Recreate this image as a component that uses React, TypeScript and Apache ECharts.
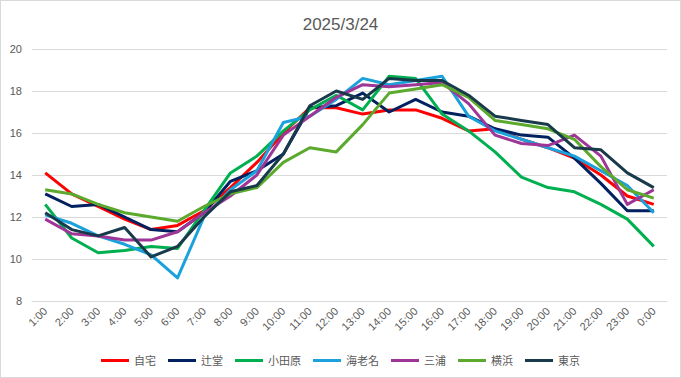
import React, { useEffect, useRef } from "react";
import * as echarts from "echarts";

const categories = ["1:00","2:00","3:00","4:00","5:00","6:00","7:00","8:00","9:00","10:00","11:00","12:00","13:00","14:00","15:00","16:00","17:00","18:00","19:00","20:00","21:00","22:00","23:00","0:00"];

const jitaku = [14.1, 13.1, 12.5, 11.9, 11.4, 11.6, 12.3, 13.4, 14.6, 16.0, 17.2, 17.2, 16.9, 17.1, 17.1, 16.7, 16.1, 16.2, 15.7, 15.3, 14.8, 14.0, 13.0, 12.6];
const tsujido = [13.1, 12.5, 12.6, 12.0, 11.4, 11.3, 12.2, 13.7, 14.2, 15.0, 17.2, 17.3, 17.9, 17.0, 17.6, 17.0, 16.8, 16.2, 15.9, 15.8, 14.8, 13.6, 12.3, 12.3];
const odawara = [12.6, 11.0, 10.3, 10.4, 10.6, 10.5, 12.3, 14.1, 14.9, 16.1, 17.1, 17.8, 17.1, 18.7, 18.6, 16.9, 16.1, 15.1, 13.9, 13.4, 13.2, 12.6, 11.9, 10.6];
const ebina = [12.1, 11.7, 11.1, 10.7, 10.2, 9.1, 12.0, 13.3, 14.2, 16.5, 16.8, 17.6, 18.6, 18.3, 18.5, 18.7, 16.8, 16.1, 15.7, 15.3, 14.9, 14.2, 13.5, 12.2];
const miura = [11.9, 11.2, 11.1, 10.9, 10.9, 11.3, 12.2, 13.0, 14.0, 15.9, 16.8, 17.7, 18.3, 18.2, 18.3, 18.4, 17.4, 15.9, 15.5, 15.4, 15.9, 14.9, 12.6, 13.3];
const yokohama = [13.3, 13.1, 12.6, 12.2, 12.0, 11.8, 12.5, 13.1, 13.4, 14.6, 15.3, 15.1, 16.4, 17.9, 18.1, 18.3, 17.7, 16.6, 16.4, 16.2, 15.7, 14.4, 13.3, 12.9];
const tokyo = [12.2, 11.4, 11.1, 11.5, 10.1, 10.6, 12.0, 13.2, 13.5, 15.0, 17.3, 18.0, 17.6, 18.6, 18.5, 18.5, 17.8, 16.8, 16.6, 16.4, 15.3, 15.2, 14.1, 13.4];

const seriesNames = ["自宅", "辻堂", "小田原", "海老名", "三浦", "横浜", "東京"];
const seriesData = [jitaku, tsujido, odawara, ebina, miura, yokohama, tokyo];
const colors = ["#FF0000", "#002060", "#00B050", "#1BA1DB", "#9E3597", "#5BAA2E", "#183A4A"];

const FONT = "'Liberation Sans', Arial, 'Noto Sans CJK JP', sans-serif";

export default function App() {
  const ref = useRef<HTMLDivElement>(null);
  useEffect(() => {
    if (!ref.current) return;
    const chart = echarts.init(ref.current, undefined, { renderer: "svg" });
    chart.setOption({
      animation: false,
      color: colors,
      textStyle: { fontFamily: FONT },
      title: {
        text: "2025/3/24",
        left: "center",
        top: 11,
        textStyle: { fontSize: 17, fontWeight: "normal", color: "#595959", fontFamily: FONT },
      },
      legend: {
        data: seriesNames,
        top: 350,
        left: "center",
        icon: "rect",
        itemWidth: 28,
        itemHeight: 3,
        itemGap: 12,
        textStyle: { fontSize: 11, color: "#595959", fontFamily: FONT },
      },
      grid: { left: 32, right: 14, top: 49, bottom: 77, containLabel: false },
      xAxis: {
        type: "category",
        data: categories,
        boundaryGap: true,
        axisTick: { show: false },
        axisLine: { show: true, lineStyle: { color: "#d9d9d9", width: 1 } },
        axisLabel: { rotate: 45, fontSize: 11, color: "#595959", margin: 8, interval: 0 },
      },
      yAxis: {
        type: "value",
        min: 8,
        max: 20,
        interval: 2,
        axisLine: { show: false },
        axisTick: { show: false },
        axisLabel: { fontSize: 11, color: "#595959", margin: 10 },
        splitLine: { lineStyle: { color: "#d9d9d9", width: 1 } },
      },
      series: seriesNames.map((name, i) => ({
        name,
        type: "line",
        data: seriesData[i],
        symbol: "none",
        smooth: false,
        lineStyle: { width: 3, color: colors[i], join: "round" },
        itemStyle: { color: colors[i] },
      })),
    });
    return () => chart.dispose();
  }, []);
  return (
    <div style={{ position: "fixed", left: 0, top: 0, width: 681, height: 378, background: "#fff" }}>
      <div ref={ref} style={{ position: "absolute", left: 0, top: 0, width: 681, height: 378 }} />
      <div style={{ position: "absolute", left: 0, top: 0, width: 681, height: 378, boxSizing: "border-box", border: "1px solid #d9d9d9", pointerEvents: "none" }} />
    </div>
  );
}
